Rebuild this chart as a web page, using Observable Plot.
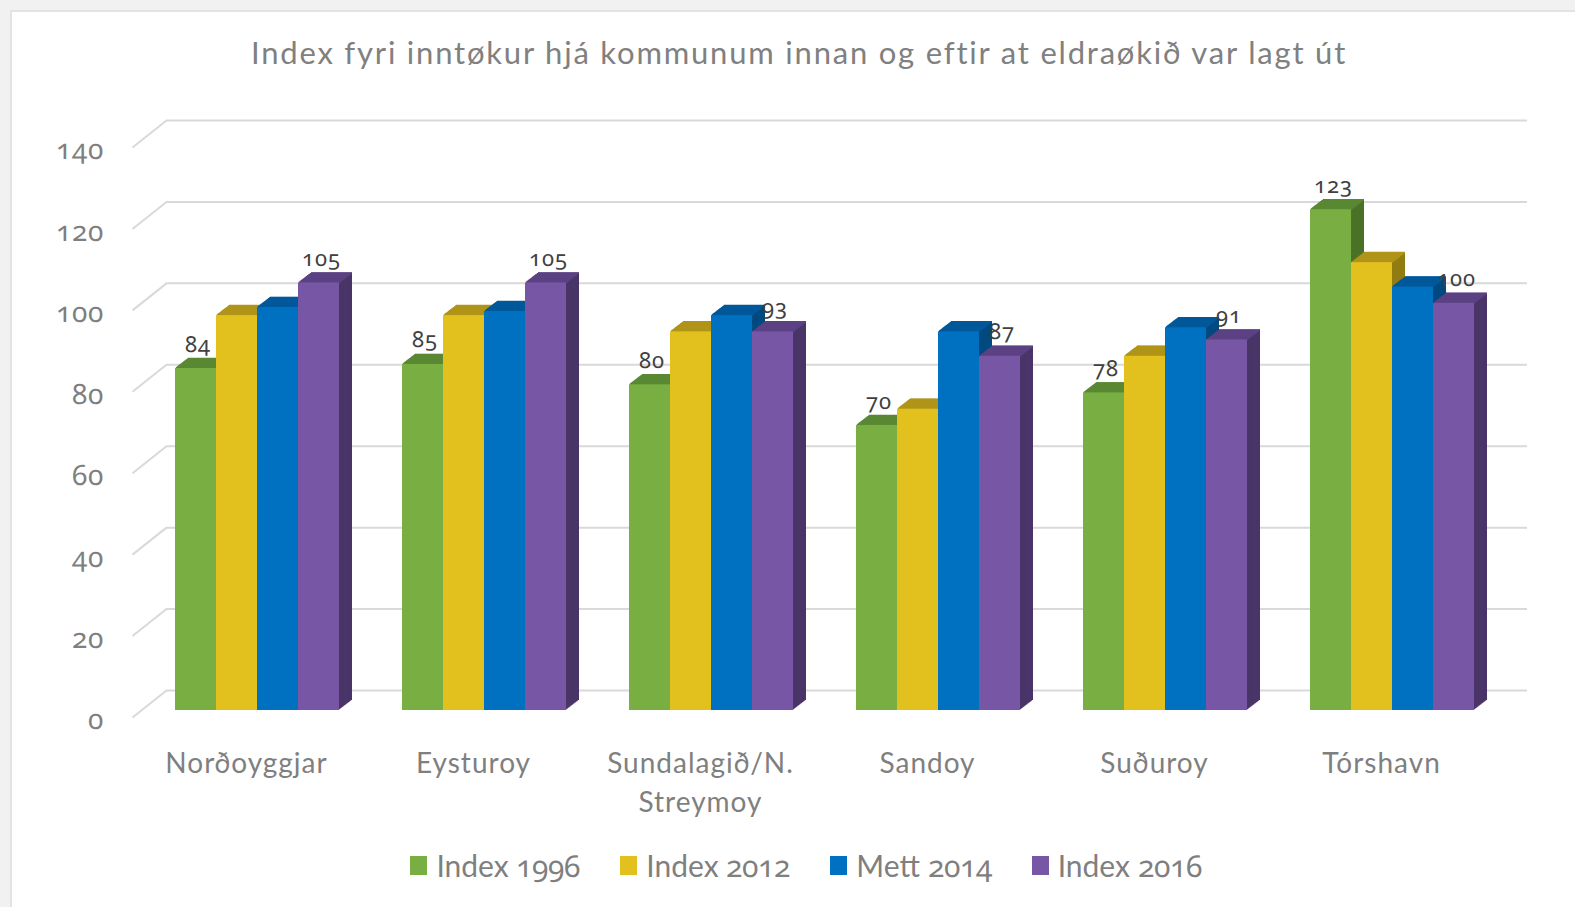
<!DOCTYPE html>
<html>
<head>
<meta charset="utf-8">
<script src="https://cdn.jsdelivr.net/npm/d3@7"></script>
<script src="https://cdn.jsdelivr.net/npm/@observablehq/plot@0.6"></script>
<style>
  @font-face { font-family: "Digits"; src: local("Noto Sans Regular"), local("NotoSans-Regular"), local("Noto Sans"); unicode-range: U+0030-0039; }
  html, body { margin: 0; padding: 0; }
  body { width: 1575px; height: 907px; background: #f1f1f1; position: relative; overflow: hidden;
         font-family: "Digits", "Lato", "Open Sans", sans-serif; }
  #panel { position: absolute; left: 10px; top: 10px; right: 0; bottom: 0; background: #fff;
           border-left: 2px solid #e3e3e3; border-top: 2px solid #e3e3e3; }
  #title { position: absolute; left: 0; top: 33px; width: 1598px; text-align: center;
           font-size: 31px; letter-spacing: 1.8px; color: #808080; }
  #chart { position: absolute; left: 0; top: 100px; }
  #chart svg text { font-variant-numeric: oldstyle-nums; font-feature-settings: "onum" 1; }
  #legend { position: absolute; left: 0; top: 845px; width: 1612px; display: flex; justify-content: center;
            gap: 40px; font-size: 30px; color: #7f7f7f; font-variant-numeric: oldstyle-nums; font-feature-settings: "onum" 1; }
  #legend .item { display: flex; align-items: center; gap: 9px; }
  #legend .sw { width: 17px; height: 19px; display: inline-block; }
</style>
</head>
<body>
<div id="panel"></div>
<div id="title">Index fyri inntøkur hjá kommunum innan og eftir at eldraøkið var lagt út</div>
<div id="chart"></div>
<div id="legend"></div>
<script>
// ---- data ----
const categories = ["Norðoyggjar", "Eysturoy", "Sundalagið/N.\nStreymoy", "Sandoy", "Suðuroy", "Tórshavn"];
const seriesNames = ["Index 1996", "Index 2012", "Mett 2014", "Index 2016"];
const index1996 = [84, 85, 80, 70, 78, 123];
const index2012 = [97, 97, 93, 74, 87, 110];
const mett2014  = [99, 98, 97, 93, 94, 104];
const index2016 = [105, 105, 93, 87, 91, 100];
const yTicks = [0, 20, 40, 60, 80, 100, 120, 140];
const labelledSeries = [0, 3];

// ---- styles ----
const frontColors = ["#79AF42", "#E2C11F", "#0070C0", "#7757A5"];
const topColors   = ["#5A8833", "#AF9419", "#00589A", "#5B4283"];
const sideColors  = ["#4B7228", "#917D11", "#004A80", "#4A3568"];

const allValues = [index1996, index2012, mett2014, index2016];
const rows = [];
allValues.forEach((vals, si) => vals.forEach((v, gi) => rows.push({gi, si, value: v})));

// scale setup (pixels inside the svg)
const GROUP_PX = 227, X0 = 257;
const Y0 = 610, Y140 = 40;
const YPX = (Y0 - Y140) / 140;
const BW = 41 / GROUP_PX;
const pxToX = px => (px - X0) / GROUP_PX;

const bx1 = d => d.gi + (d.si - 2) * BW;
const bx2 = d => d.gi + (d.si - 1) * BW;

const DEPTH_DX = 13, DEPTH_DY = 10, STEPS = 14;
const WALL_DX = 26, WALL_DY = 20;

const marks = [];
marks.push(Plot.ruleY(yTicks, {dx: WALL_DX, dy: -WALL_DY, stroke: "#d9d9d9", strokeWidth: 2}));
marks.push(Plot.link(yTicks, {
  x1: () => pxToX(132), x2: () => pxToX(166),
  y1: d => d - 7 / YPX, y2: d => d + WALL_DY / YPX,
  stroke: "#d9d9d9", strokeWidth: 2
}));

for (let s = 0; s < 4; s++) {
  const data = rows.filter(d => d.si === s);
  for (let i = STEPS; i >= 1; i--) {
    marks.push(Plot.rect(data, {
      x1: bx1, x2: bx2, y1: 0, y2: "value", inset: 0,
      fill: sideColors[s], dx: i * DEPTH_DX / STEPS, dy: -i * DEPTH_DY / STEPS
    }));
  }
  for (let i = STEPS; i >= 1; i--) {
    marks.push(Plot.ruleY(data, {
      x1: bx1, x2: bx2, y: "value",
      stroke: topColors[s], strokeWidth: 1.6,
      dx: i * DEPTH_DX / STEPS, dy: -i * DEPTH_DY / STEPS
    }));
  }
  marks.push(Plot.rect(data, {x1: bx1, x2: bx2, y1: 0, y2: "value", inset: 0, fill: frontColors[s]}));
}

marks.push(Plot.text(rows.filter(d => labelledSeries.includes(d.si)), {
  x: d => d.gi + (d.si - 1.5) * BW, y: "value", text: d => String(d.value),
  dy: -24, dx: 2, fill: "#404040", fontSize: 22
}));

marks.push(Plot.text(categories.map((c, i) => ({c, i})), {
  x: "i", y: 0, text: "c", dx: -11, dy: 35, lineAnchor: "top", lineHeight: 1.38,
  fill: "#7f7f7f", fontSize: 28, letterSpacing: 1.5
}));

marks.push(Plot.axisY(yTicks, {anchor: "left", tickSize: 0, tickPadding: 37, dy: 10, label: null}));

const chart = Plot.plot({
  width: 1575,
  height: 720,
  marginLeft: 140,
  marginRight: 74,
  marginTop: 20,
  marginBottom: 40,
  style: {background: "transparent", fontSize: "28px", color: "#7f7f7f", fontFamily: "Digits, Lato, sans-serif", overflow: "visible", letterSpacing: "1px"},
  x: {type: "linear", domain: [0, 5], range: [X0, X0 + 5 * GROUP_PX], axis: null},
  y: {type: "linear", domain: [0, 140], range: [Y0, Y140], axis: null},
  marks
});
document.getElementById("chart").appendChild(chart);

const legend = document.getElementById("legend");
seriesNames.forEach((name, i) => {
  const item = document.createElement("div");
  item.className = "item";
  item.innerHTML = `<span class="sw" style="background:${frontColors[i]}"></span><span>${name}</span>`;
  legend.appendChild(item);
});
</script>
</body>
</html>
